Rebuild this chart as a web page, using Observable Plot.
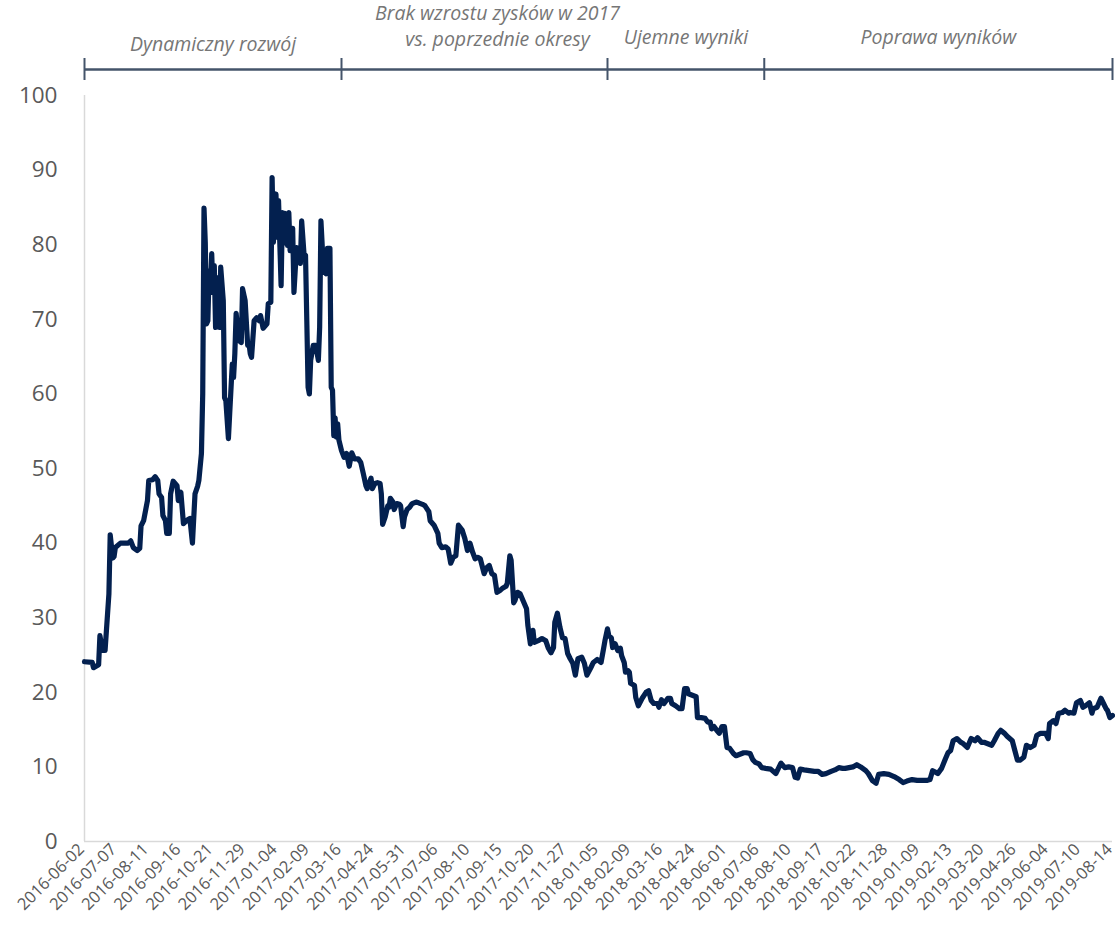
<!DOCTYPE html>
<html>
<head>
<meta charset="utf-8">
<script src="https://cdn.jsdelivr.net/npm/d3@7"></script>
<script src="https://cdn.jsdelivr.net/npm/@observablehq/plot@0.6"></script>
<style>
  body { margin: 0; background: #fff; }
  #chart svg { display: block; overflow: visible; }
</style>
</head>
<body>
<div id="chart"></div>
<script>
// Session dates shown on the category axis (one label every 25 sessions)
const tickLabels = [
  "2016-06-02","2016-07-07","2016-08-11","2016-09-16","2016-10-21","2016-11-29",
  "2017-01-04","2017-02-09","2017-03-16","2017-04-24","2017-05-31","2017-07-06",
  "2017-08-10","2017-09-15","2017-10-20","2017-11-27","2018-01-05","2018-02-09",
  "2018-03-16","2018-04-24","2018-06-01","2018-07-06","2018-08-10","2018-09-17",
  "2018-10-22","2018-11-28","2019-01-09","2019-02-13","2019-03-20","2019-04-26",
  "2019-06-04","2019-07-10","2019-08-14"
];
const sessionsPerLabel = 25;

// Phase annotations over the chart: names and boundary sessions
const phaseNames = [
  "Dynamiczny rozwój",
  "Brak wzrostu zysków w 2017\nvs. poprzednie okresy",
  "Ujemne wyniki",
  "Poprawa wyników"
];
const phaseBounds = [0, 200, 407, 529, 800];

// Closing values: [session number, value]
const closes = [
  [0,24.1],[6,24.0],[7,23.3],[11,23.7],[12,27.6],[14,25.6],[16,25.6],[19,33.2],[20,41.1],[22,38.0],
  [23,38.2],[24,39.4],[28,40.0],[34,40.0],[36,40.3],[38,39.4],[41,39.0],[43,39.3],[44,42.3],[46,43.0],
  [49,45.7],[50,48.4],[53,48.5],[55,48.9],[57,48.4],[58,46.6],[60,46.1],[61,43.7],[63,43.0],[64,41.3],
  [66,41.3],[67,46.6],[69,48.3],[72,47.7],[73,45.7],[74,46.6],[75,46.8],[77,42.6],[80,43.1],[82,43.3],
  [84,40.0],[86,46.6],[88,47.6],[89,48.4],[91,52.0],[92,60.0],[93,84.9],[94,80.2],[95,69.4],[96,69.8],
  [97,76.5],[98,73.9],[99,78.8],[100,73.6],[101,77.2],[102,68.9],[104,75.6],[105,68.9],[106,77.0],[108,72.5],
  [109,59.5],[110,59.1],[112,54.0],[113,57.4],[115,64.0],[116,62.2],[117,65.4],[118,70.8],[120,67.2],[122,66.9],
  [123,74.1],[125,72.5],[127,66.5],[128,66.8],[129,65.4],[130,64.9],[132,69.8],[134,70.2],[136,69.8],[137,70.5],
  [139,68.8],[142,69.4],[143,72.1],[145,72.3],[146,89.0],[147,80.3],[149,86.8],[150,81.0],[151,85.9],[153,74.5],
  [154,84.3],[155,80.2],[156,84.2],[158,79.9],[159,84.3],[160,79.2],[162,82.2],[163,73.6],[165,79.6],[167,77.9],
  [168,77.5],[169,83.2],[171,78.3],[172,78.6],[173,69.8],[174,60.9],[175,60.0],[176,64.5],[178,66.5],[180,66.5],
  [182,64.5],[183,68.9],[184,83.2],[186,76.5],[188,76.1],[189,79.5],[191,79.5],[192,60.9],[193,60.5],[194,54.4],
  [195,56.8],[196,54.2],[197,56.0],[198,53.8],[200,52.4],[202,51.5],[204,52.0],[206,50.3],[208,52.1],[210,51.3],
  [213,51.3],[215,50.8],[217,49.3],[219,47.7],[220,47.3],[223,48.7],[224,47.3],[226,48.0],[228,48.1],[230,48.0],
  [231,46.6],[232,42.5],[234,43.5],[236,45.0],[237,44.8],[238,46.0],[240,45.5],[241,44.5],[243,45.3],[245,45.2],
  [246,45.0],[248,42.2],[249,43.5],[251,44.5],[253,44.8],[255,45.3],[258,45.5],[260,45.4],[263,45.2],[265,45.0],
  [268,44.2],[269,43.0],[272,42.4],[275,41.3],[276,40.0],[278,39.4],[281,39.5],[283,39.2],[285,37.3],[287,38.1],
  [289,38.3],[291,42.4],[294,41.7],[296,40.6],[298,39.0],[300,40.0],[302,38.8],[304,37.9],[306,38.1],[308,37.9],
  [311,35.9],[313,36.7],[315,37.0],[317,35.9],[319,35.7],[321,33.4],[323,33.6],[325,33.9],[328,34.2],[329,34.6],
  [331,38.3],[332,37.7],[334,32.0],[335,32.3],[337,33.4],[339,33.2],[342,32.0],[344,31.2],[345,29.0],[347,26.5],
  [349,28.3],[350,26.7],[354,27.0],[356,27.2],[359,26.9],[361,25.9],[363,25.3],[365,26.0],[366,29.4],[368,30.6],
  [370,28.7],[372,27.3],[374,27.2],[376,25.2],[378,24.5],[380,23.9],[382,22.3],[384,24.5],[387,24.7],[389,23.9],
  [391,22.3],[394,23.3],[396,24.0],[399,24.4],[402,24.0],[404,25.9],[405,26.9],[407,28.5],[408,27.6],[410,27.3],
  [411,26.0],[413,26.5],[415,25.6],[417,25.9],[418,24.9],[420,24.0],[421,22.7],[423,22.9],[424,22.7],[425,21.2],
  [428,20.9],[429,19.3],[431,18.2],[434,19.2],[437,20.0],[439,20.2],[441,18.9],[443,18.5],[446,18.5],[447,18.0],
  [449,19.0],[451,18.5],[454,19.2],[456,19.2],[457,18.5],[460,18.2],[463,17.8],[465,17.8],[467,20.5],[469,20.5],
  [470,19.8],[473,19.6],[476,19.4],[477,16.6],[480,16.6],[483,16.5],[485,16.0],[487,16.0],[488,15.1],[490,15.4],
  [492,14.9],[494,14.5],[496,15.4],[498,15.4],[500,12.6],[502,12.5],[505,11.8],[507,11.5],[510,11.7],[513,11.9],
  [515,11.9],[518,11.8],[520,11.0],[522,10.6],[525,10.4],[527,9.9],[530,9.8],[534,9.7],[538,9.1],[542,10.5],
  [545,9.9],[548,10.0],[551,9.9],[553,8.6],[555,8.5],[557,9.7],[560,9.6],[564,9.5],[568,9.4],[571,9.4],
  [574,9.0],[577,9.1],[581,9.4],[584,9.6],[587,9.9],[590,9.8],[592,9.8],[595,9.9],[598,10.0],[601,10.3],
  [604,10.0],[608,9.5],[610,9.1],[613,8.2],[616,7.8],[618,9.0],[622,9.1],[626,9.0],[630,8.7],[634,8.3],
  [637,7.9],[640,8.1],[644,8.3],[648,8.2],[652,8.2],[656,8.2],[658,8.3],[660,9.5],[662,9.3],[664,9.1],
  [667,9.8],[670,11.1],[672,11.9],[674,12.2],[676,13.5],[679,13.8],[682,13.3],[684,13.1],[687,12.6],[690,13.8],
  [693,13.5],[695,13.9],[698,13.3],[700,13.3],[703,13.1],[706,12.9],[708,13.5],[711,14.5],[713,14.9],[716,14.5],
  [718,14.1],[722,13.5],[724,12.2],[726,10.9],[728,10.9],[731,11.3],[733,12.9],[736,12.6],[739,12.9],[741,14.2],
  [744,14.5],[748,14.5],[750,13.8],[751,15.8],[754,16.2],[756,15.8],[758,17.2],[761,17.3],[763,17.6],[766,17.2],
  [767,17.3],[770,17.2],[772,18.6],[775,18.9],[777,18.0],[779,18.2],[782,18.6],[784,17.2],[785,17.8],[788,18.0],
  [791,19.2],[793,18.5],[795,17.8],[796,17.6],[798,16.6],[800,16.9]
];
const yTicks = [0, 10, 20, 30, 40, 50, 60, 70, 80, 90, 100];

const series = closes.map(([session, value]) => ({session, value}));
const phases = phaseNames.map((name, i) => ({name, start: phaseBounds[i], end: phaseBounds[i + 1]}));
const lastSession = (tickLabels.length - 1) * sessionsPerLabel;
const xTicks = tickLabels.map((_, i) => i * sessionsPerLabel);

const W = 1115, ML = 84, MR = 3;
const ink = "#44546a";
const phaseText = {
  x: d => (d.start + d.end) / 2,
  text: "name",
  frameAnchor: "top",
  lineAnchor: "bottom",
  lineHeight: 1.32,
  fontSize: 19.5,
  fontStyle: "italic",
  fontFamily: "Open Sans",
  fill: "#767676"
};

// Phase strip above the chart
const strip = Plot.plot({
  width: W, height: 80,
  marginLeft: ML, marginRight: MR, marginTop: 58, marginBottom: 0,
  x: {domain: [0, lastSession], axis: null},
  y: {domain: [-1, 1], axis: null},
  marks: [
    Plot.ruleY([0], {stroke: ink, strokeWidth: 2.5}),
    Plot.tickX(phaseBounds, {x: d => d, stroke: ink, strokeWidth: 2}),
    Plot.text(phases.slice(0, 1), {...phaseText, dy: -8}),
    Plot.text(phases.slice(1, 2), {...phaseText, dy: -13, dx: 23}),
    Plot.text(phases.slice(2), {...phaseText, dy: -15})
  ]
});

// Main line chart
const chart = Plot.plot({
  width: W, height: 847,
  marginLeft: ML, marginRight: MR, marginTop: 15, marginBottom: 86,
  style: {fontFamily: "Open Sans", color: "#595959", background: "#fff", overflow: "visible"},
  x: {domain: [0, lastSession]},
  y: {domain: [0, 100]},
  marks: [
    Plot.ruleX([0], {stroke: "#d9d9d9", strokeWidth: 1.5}),
    Plot.ruleY([0], {stroke: "#d9d9d9", strokeWidth: 1.5}),
    Plot.axisY(yTicks, {tickSize: 0, tickPadding: 27, fontSize: 22.5, fill: "#595959", label: null}),
    Plot.axisX(xTicks, {
      tickSize: 0, tickPadding: 5, tickRotate: -45, fontSize: 16.5, fill: "#595959", dx: -3,
      tickFormat: s => tickLabels[s / sessionsPerLabel], label: null
    }),
    Plot.line(series, {
      x: "session", y: "value",
      stroke: "#03204f", strokeWidth: 5.2,
      strokeLinejoin: "round", strokeLinecap: "round"
    })
  ]
});

const root = document.getElementById("chart");
root.appendChild(strip);
root.appendChild(chart);
</script>
</body>
</html>
